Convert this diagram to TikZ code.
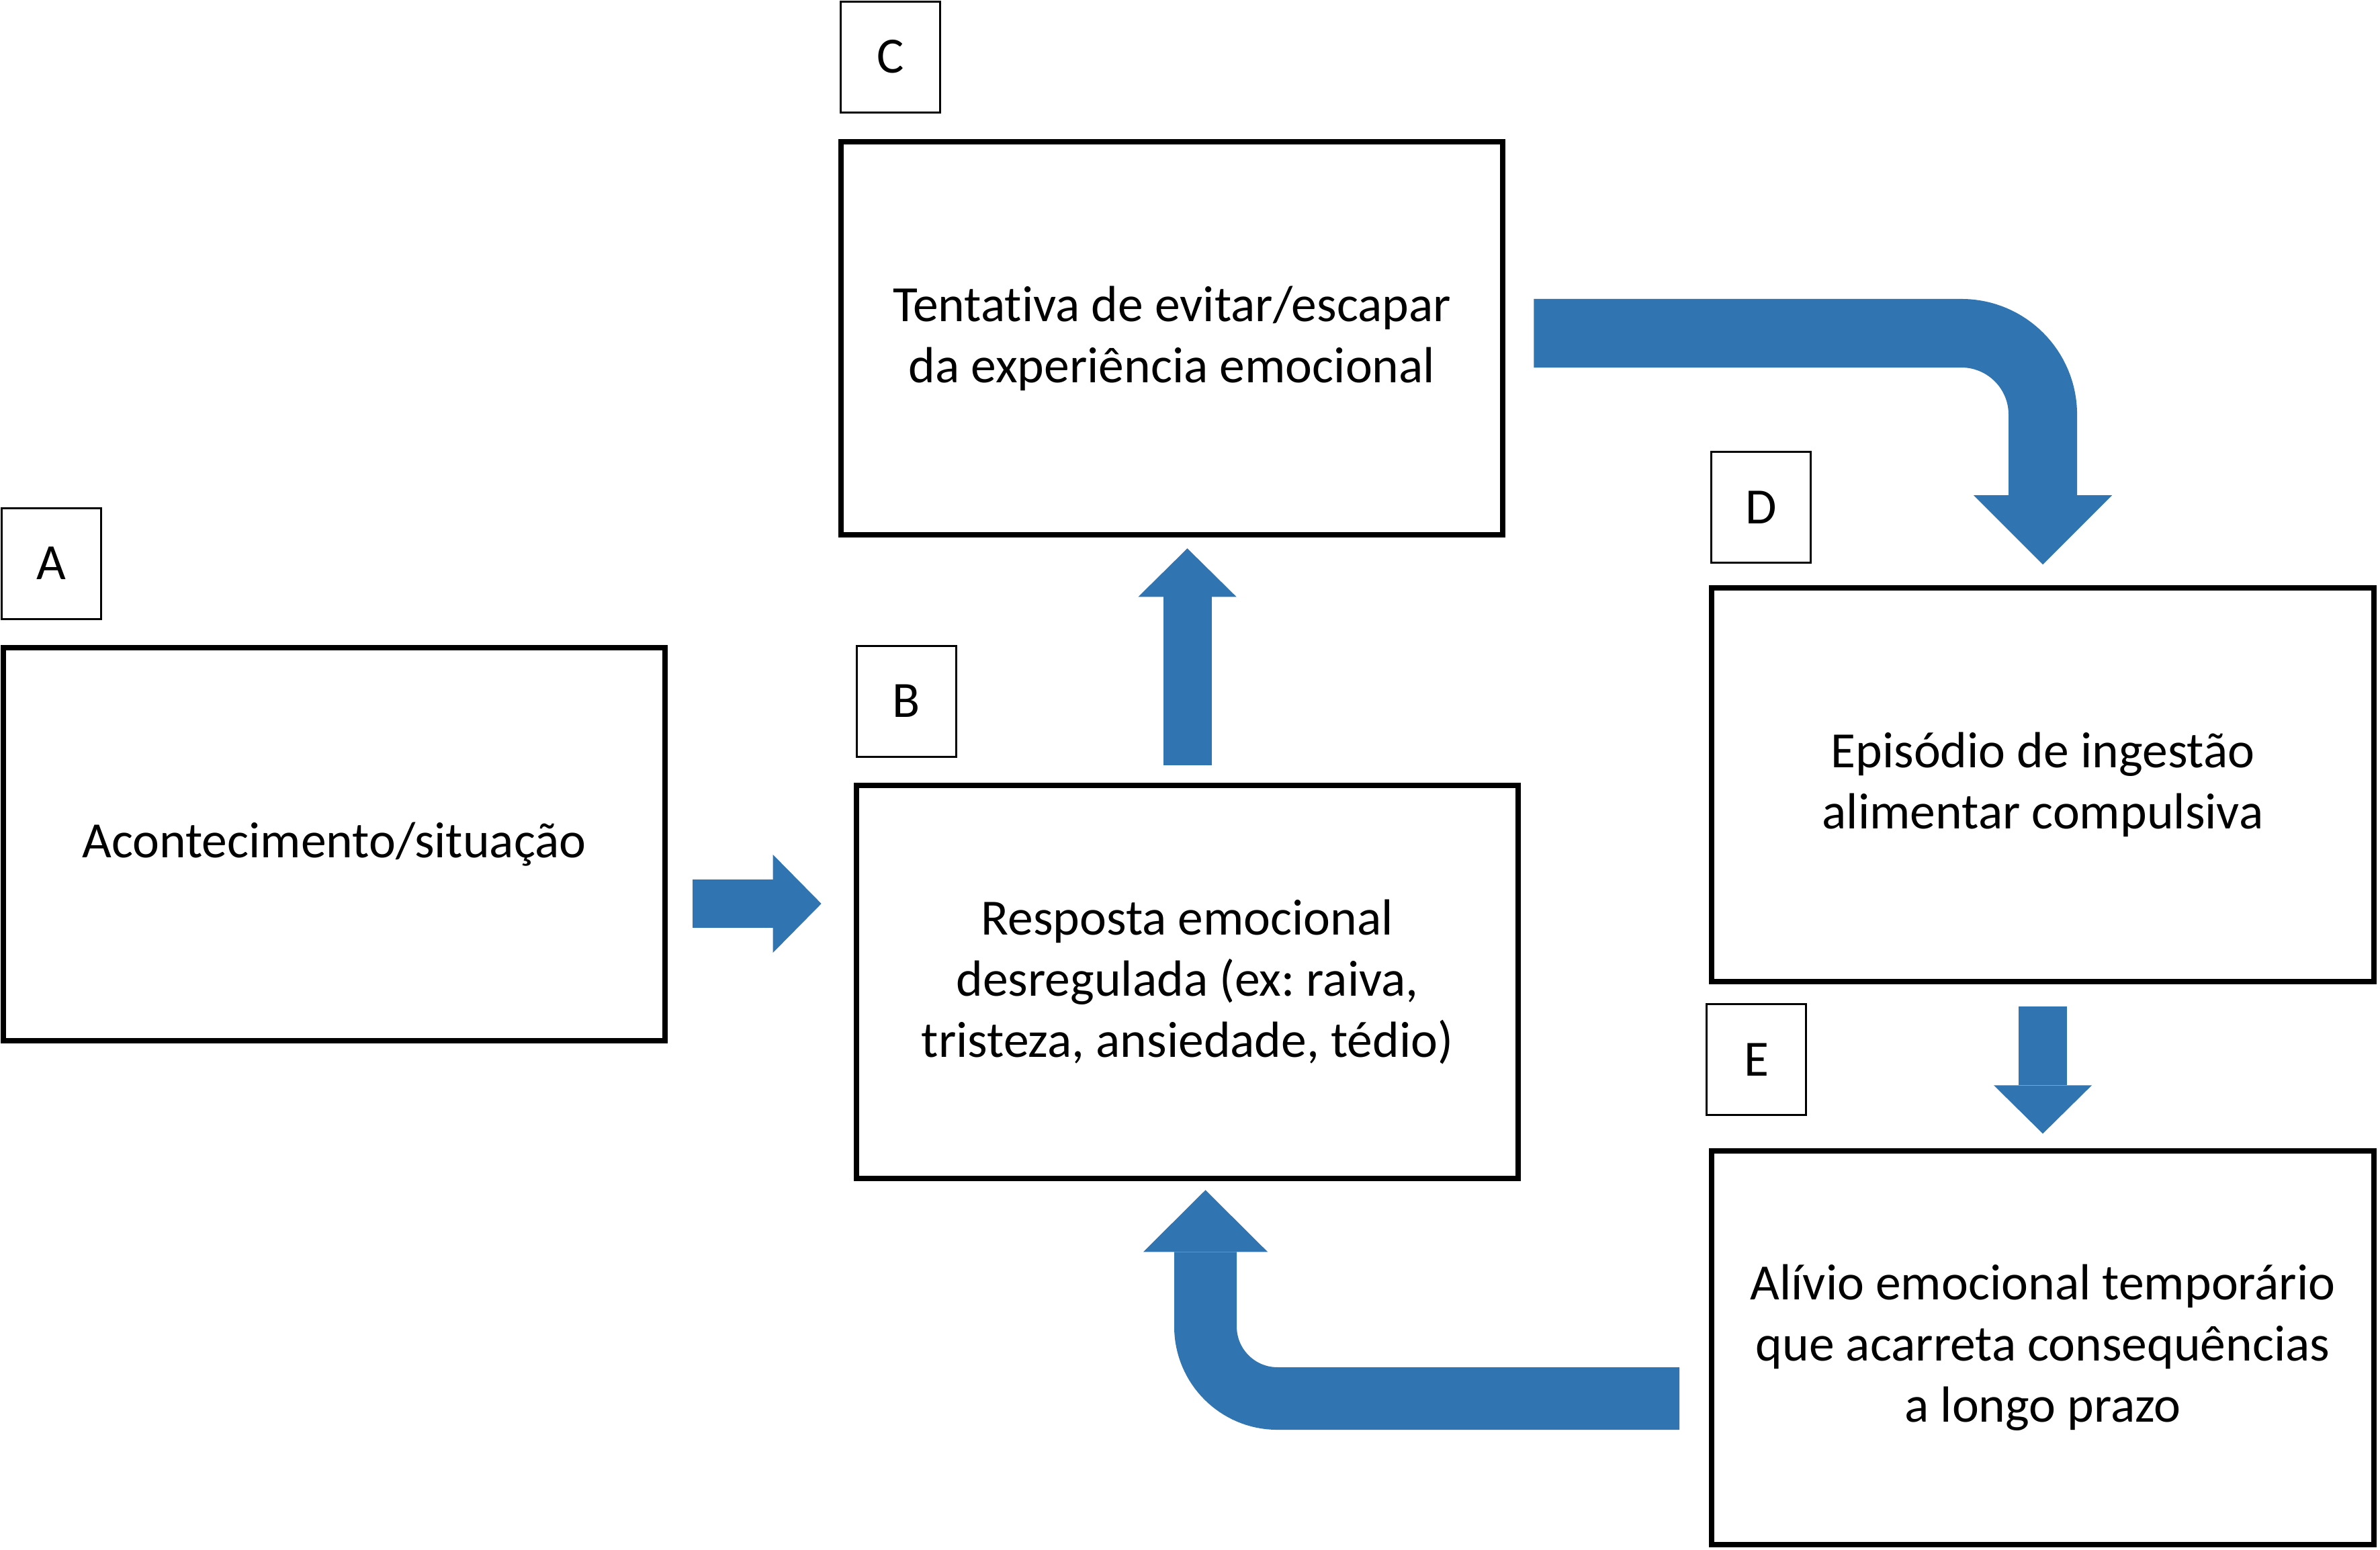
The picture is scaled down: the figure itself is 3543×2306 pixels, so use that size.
\documentclass[tikz,border=0pt]{standalone}
\usepackage{fontspec}
\setmainfont{Carlito}[Ligatures=NoCommon]
\usepackage{xcolor}
\usepackage{tikz}
\usetikzlibrary{arrows.meta,positioning,calc}
\frenchspacing

\definecolor{flowblue}{RGB}{49,116,178}

\tikzset{
  box/.style={draw, line width=2.3pt, minimum width=9.85cm, minimum height=5.85cm,
    align=center, font=\fontsize{21.5}{25.9}\selectfont},
  tag/.style={draw, line width=0.9pt, minimum width=1.48cm, minimum height=1.65cm,
    font=\fontsize{21.5}{25.9}\selectfont},
  flow/.style={flowblue, line width=0.72cm, -{Triangle[width=1.46cm, length=0.72cm, line width=0pt]}}
}

\begin{document}
\begin{tikzpicture}[x=0.01cm, y=-0.01cm]
    \useasboundingbox (0,0) rectangle (3543,2306);

    \node[box] (A) at (497.5,1256.5) {Acontecimento/situação};
    \node[box] (B) at (1767.5,1461.5) {Resposta emocional\\desregulada (ex: raiva,\\tristeza, ansiedade, tédio)};
    \node[box] (C) at (1744.5,503.5) {Tentativa de evitar/escapar\\da experiência emocional};
    \node[box] (D) at (3041,1168) {Episódio de ingestão\\alimentar compulsiva};
    \node[box] (E) at (3041,2006) {Alívio emocional temporário\\que acarreta consequências\\a longo prazo};

    \node[tag, above right=0.37cm and 0cm of A.north west] (tagA) {A};
    \node[tag, above right=0.37cm and 0.03cm of B.north west] (tagB) {B};
    \node[tag, above right=0.38cm and 0.02cm of C.north west] (tagC) {C};
    \node[tag, above right=0.32cm and 0.02cm of D.north west] (tagD) {D};
    \node[tag, above right=0.48cm and -0.05cm of E.north west] (tagE) {E};

    \draw[flow] ($(A.east)+(37,88.5)$) -- ($(B.west)+(-48,-116.5)$);
    \draw[flow] ($(B.north)+(0,-26)$) -- ($(B.north |- C.south)+(0,16)$);
    \draw[flow] ($(D.south)+(0,33)$) -- ($(E.north)+(0,-22)$);

    \draw[flowblue, line width=1.02cm, rounded corners=1.21cm,
        -{Triangle[width=2.06cm, length=1.03cm, line width=0pt]}]
        ($(C.east)+(42,-7.5)$) -| ($(D.north)+(0,-31)$);
    \draw[flowblue, line width=0.93cm, rounded corners=1.07cm,
        -{Triangle[width=1.85cm, length=0.92cm, line width=0pt]}]
        ($(E.west)+(-44,75.5)$) -| ($(B.south)+(27,13)$);
\end{tikzpicture}
\end{document}
